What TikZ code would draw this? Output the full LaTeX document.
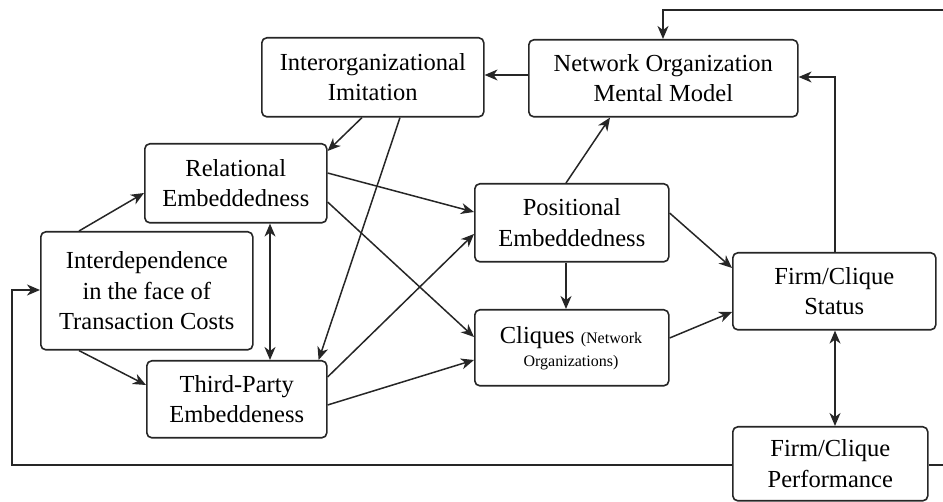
\documentclass[tikz,border=0pt]{standalone}
\usepackage{fontspec}
\setmainfont{Liberation Serif}
\usetikzlibrary{arrows.meta,calc}
\begin{document}
\begin{tikzpicture}[x=1pt,y=-1pt,
  box/.style={draw=black!85,line width=1.6pt,rounded corners=5pt,inner sep=0pt,anchor=north west,align=center,font=\fontsize{24.5}{30.5}\selectfont},
  conn/.style={draw=black!85,line width=1.5pt,-{Stealth[length=13pt,width=11pt,inset=4pt]}},
  biconn/.style={draw=black!85,line width=1.5pt,{Stealth[length=13pt,width=11pt,inset=4pt]}-{Stealth[length=13pt,width=11pt,inset=4pt]}},
  txt/.style={anchor=base,inner sep=0pt}]
\useasboundingbox (0,0) rectangle (943,502);
% boxes
\node[box,minimum width=222pt,minimum height=79pt] (imit) at (261,37) {Interorganizational\\Imitation};
\node[box,minimum width=269pt,minimum height=77pt] (nom) at (528,39) {Network Organization\\Mental Model};
\node[box,minimum width=182pt,minimum height=79pt] (rel) at (144,143) {Relational\\Embeddedness};
\node[box,minimum width=212pt,minimum height=118pt] (inter) at (40,231) {Interdependence\\in the face of\\Transaction Costs};
\node[box,minimum width=180pt,minimum height=77pt] (third) at (146,360) {Third-Party\\Embeddeness};
\node[box,minimum width=194pt,minimum height=78pt] (pos) at (474,183) {Positional\\Embeddedness};
\node[box,minimum width=194pt,minimum height=76pt] (cliq) at (474,309) {};
\node[txt] (cliqA) at (571,344) {\fontsize{24.5}{30.5}\selectfont Cliques {\fontsize{16}{20}\selectfont(Network}};
\node[txt] (cliqB) at (571,367) {\fontsize{16}{20}\selectfont Organizations)};
\node[box,minimum width=203pt,minimum height=77pt] (status) at (732,252) {Firm/Clique\\Status};
\node[box,minimum width=195pt,minimum height=74pt] (perf) at (732,426) {Firm/Clique\\Performance};
% connectors
\draw[conn] ([xshift=39pt]inter.north west) -- ([yshift=-50pt]rel.north west);
\draw[conn] ([xshift=39pt]inter.south west) -- ([yshift=-25pt]third.north west);
\draw[biconn] ([xshift=126pt]rel.south west) -- ([xshift=124pt]third.north west);
\draw[conn] ([xshift=101pt]imit.south west) -- ([yshift=-8pt]rel.north east);
\draw[conn] ([xshift=139pt]imit.south west) -- ([xshift=-9pt]third.north east);
\draw[conn] ([yshift=-30pt]rel.north east) -- ([yshift=-29pt]pos.north west);
\draw[conn] ([yshift=-59pt]rel.north east) -- ([yshift=-28pt]cliq.north west);
\draw[conn] ([yshift=-17pt]third.north east) -- ([yshift=-51pt]pos.north west);
\draw[conn] ([yshift=-45pt]third.north east) -- ([yshift=-51pt]cliq.north west);
\draw[conn] ([xshift=92pt]pos.north west) -- ([xshift=82pt]nom.south west);
\draw[conn] ([xshift=92pt]pos.south west) -- ([xshift=92pt]cliq.north west);
\draw[conn] ([yshift=-30pt]pos.north east) -- ([yshift=-16pt]status.north west);
\draw[conn] ([yshift=-29pt]cliq.north east) -- ([yshift=-60pt]status.north west);
\draw[conn] ([yshift=-36pt]nom.north west) -- ([yshift=-36pt]nom.north west -| imit.east);
\coordinate (nomR) at ([yshift=-38pt]nom.north east);
\coordinate (stT) at ([xshift=103pt]status.north west);
\draw[conn] (stT) -- (stT |- nomR) -- (nomR);
\draw[biconn] ([xshift=103pt]status.south west) -- ([xshift=103pt]perf.north west);
\coordinate (tr) at (947,10);
\coordinate (nomT) at ([xshift=135pt]nom.north west);
\coordinate (perfR) at ([yshift=-39pt]perf.north east);
\draw[conn] (perfR) -- (tr |- perfR) -- (tr) -- (tr -| nomT) -- (nomT);
\coordinate (bl) at (12,465);
\coordinate (interL) at ([yshift=-59pt]inter.north west);
\draw[conn] ([yshift=-39pt]perf.north west) -- (bl) -- (bl |- interL) -- (interL);
\end{tikzpicture}
\end{document}
